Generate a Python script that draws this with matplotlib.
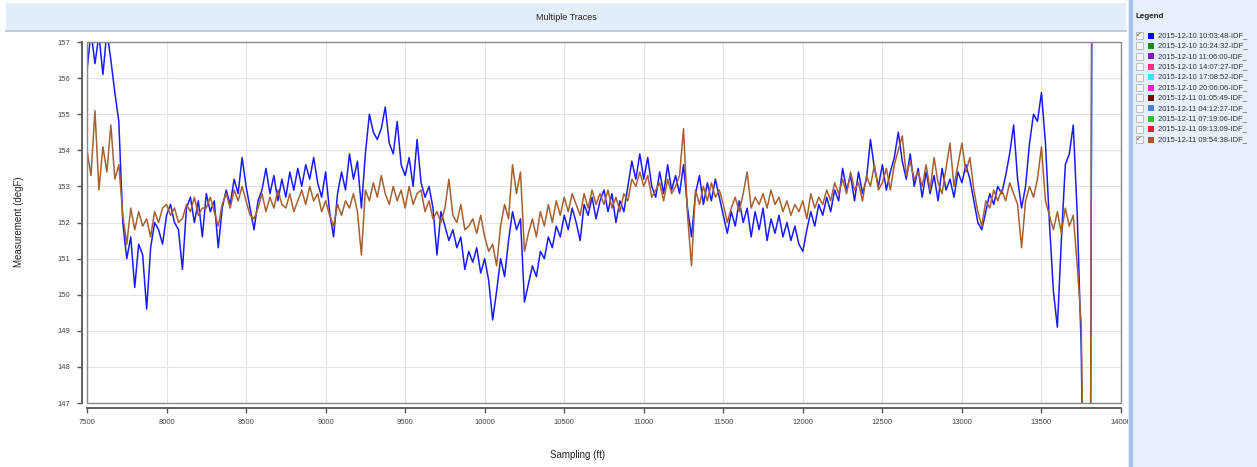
"""
Multiple Traces: two selected temperature traces vs. sampling depth,
with the trace-picker legend panel on the right.
"""

import numpy as np
import matplotlib
import matplotlib.pyplot as plt
from matplotlib.patches import Rectangle
from matplotlib.lines import Line2D

matplotlib.use("Agg")

plt.rcParams["font.family"] = ["Liberation Sans", "DejaVu Sans"]

W, H = 1257, 467

# sampling grid (ft), one reading every 25 ft
SAMPLING_START = 7500
SAMPLING_STEP = 25

# 2015-12-10 10:03:48 (blue)
trace_1003 = [
    156.2, 157.3, 156.4, 157.2, 156.1, 157.3, 156.5, 155.6, 154.8, 152.0,
    151.0, 151.6, 150.2, 151.4, 151.1, 149.6, 151.3, 152.0, 151.8, 151.4,
    152.2, 152.5, 152.0, 151.8, 150.7, 152.4, 152.7, 152.0, 152.6, 151.6,
    152.8, 152.3, 152.6, 151.3, 152.4, 152.9, 152.5, 153.2, 152.8, 153.8,
    153.0, 152.4, 151.8, 152.6, 152.9, 153.5, 152.8, 153.3, 152.6, 153.2,
    152.7, 153.4, 152.9, 153.5, 153.0, 153.6, 153.2, 153.8, 153.1, 152.7,
    153.4, 152.3, 151.6, 152.8, 153.4, 152.9, 153.9, 153.2, 153.7, 152.4,
    153.9, 155.0, 154.5, 154.3, 154.6, 155.2, 154.2, 153.9, 154.8, 153.6,
    153.3, 153.8, 153.0, 154.3, 153.1, 152.7, 153.0, 152.4, 151.1, 152.3,
    151.9, 151.5, 151.8, 151.3, 151.6, 150.7, 151.2, 150.9, 151.3, 150.6,
    151.0, 150.4, 149.3, 150.1, 151.0, 150.5, 151.5, 152.3, 151.8, 152.1,
    149.8, 150.3, 150.8, 150.5, 151.2, 151.0, 151.6, 151.3, 151.9, 151.6,
    152.2, 151.8, 152.4, 152.0, 151.5, 152.5, 152.2, 152.7, 152.1, 152.6,
    152.9, 152.3, 152.8, 152.0, 152.6, 152.3, 153.0, 153.7, 153.2, 153.9,
    153.2, 153.8, 153.0, 152.7, 153.4, 152.8, 153.6, 152.9, 153.3, 152.8,
    153.6, 152.4, 151.6, 152.8, 153.3, 152.5, 153.1, 152.6, 153.2, 152.7,
    152.2, 151.7, 152.3, 151.9, 152.6, 152.0, 152.4, 151.6, 152.3, 151.8,
    152.4, 151.5, 152.1, 151.7, 152.2, 151.6, 152.0, 151.5, 151.9, 151.4,
    151.2, 151.8, 152.3, 151.9, 152.5, 152.2, 152.7, 152.3, 152.9, 152.6,
    153.5, 152.9, 153.3, 152.6, 153.4, 152.8, 153.2, 154.3, 153.5, 153.0,
    153.6, 152.9, 153.4, 153.8, 154.5, 153.7, 153.2, 153.9, 153.0, 153.5,
    152.7, 153.4, 152.8, 153.3, 152.6, 153.5, 152.9, 153.2, 152.7, 153.4,
    153.1, 153.6, 153.2, 152.6, 152.0, 151.8, 152.3, 152.8, 152.5, 153.0,
    152.8, 153.3, 153.9, 154.7, 153.2, 152.4, 153.0, 154.2, 155.0, 154.8,
    155.6, 154.2, 152.0, 150.1, 149.1, 151.5, 153.6, 153.9, 154.7, 152.2,
    148.5, 140.0, 132.0, 172.0,
]

# 2015-12-11 09:54:38 (brown)
trace_0954 = [
    154.0, 153.3, 155.1, 152.9, 154.1, 153.4, 154.7, 153.2, 153.6, 152.2,
    151.4, 152.4, 151.8, 152.3, 151.9, 152.1, 151.6, 152.3, 152.0, 152.4,
    152.5, 152.2, 152.4, 152.0, 152.1, 152.5, 152.3, 152.7, 152.2, 152.4,
    152.4, 152.7, 152.3, 151.9, 152.5, 152.8, 152.4, 152.9, 152.6, 153.0,
    152.6, 152.2, 152.1, 152.4, 152.8, 152.3, 152.7, 152.4, 152.9, 152.5,
    152.4, 152.8, 152.3, 152.6, 152.9, 152.5, 153.0, 152.6, 152.8, 152.3,
    152.6, 152.2, 151.9, 152.5, 152.2, 152.6, 152.4, 152.8, 152.3, 151.1,
    152.9, 152.6, 153.1, 152.7, 153.3, 152.8, 152.5, 153.0, 152.6, 152.9,
    152.4, 153.0, 152.5, 152.8, 152.9, 152.3, 152.6, 152.1, 152.3, 152.0,
    152.4, 153.2, 152.2, 152.0, 152.5, 151.8, 151.9, 152.1, 151.7, 152.2,
    151.6, 151.2, 151.4, 150.8, 151.9, 152.5, 152.1, 153.6, 152.8, 153.4,
    151.2, 151.7, 152.1, 151.6, 152.3, 151.9, 152.5, 152.0, 152.6, 152.2,
    152.7, 152.3, 152.8, 152.5, 152.2, 152.8, 152.4, 152.9, 152.5, 152.8,
    152.5, 152.9, 152.4, 152.7, 152.3, 152.8, 152.6, 153.2, 153.0, 153.4,
    153.0, 153.3, 152.7, 152.9, 153.1, 152.6, 153.2, 152.8, 153.0, 153.3,
    154.6, 152.2, 150.8, 152.9, 152.5, 153.0, 152.6, 153.1, 152.7, 152.9,
    152.5, 152.0, 152.4, 152.7, 152.3, 152.8, 153.4, 152.4, 152.7, 152.5,
    152.8, 152.4, 152.9, 152.5, 152.7, 152.3, 152.6, 152.2, 152.5, 152.3,
    152.6, 152.1, 152.8, 152.4, 152.7, 152.5, 152.9, 152.6, 153.1, 152.8,
    153.2, 152.8, 153.4, 152.9, 153.1, 152.6, 153.3, 153.0, 153.6, 152.9,
    153.1, 153.5, 152.9, 153.6, 154.0, 154.4, 153.3, 153.7, 153.2, 153.4,
    153.0, 153.6, 152.9, 153.8, 153.1, 152.8, 153.5, 154.2, 153.0, 153.6,
    154.2, 153.4, 153.8, 152.9, 152.3, 151.9, 152.6, 152.4, 152.9, 152.6,
    152.9, 152.6, 153.1, 152.8, 152.5, 151.3, 152.6, 153.0, 152.7, 153.2,
    154.1, 152.6, 152.2, 151.8, 152.3, 151.7, 152.4, 151.9, 152.2, 150.8,
    149.2, 141.0, 132.0, 172.0,
]

LEGEND_LABELS = [
    "2015-12-10 10:03:48-IDF_",
    "2015-12-10 10:24:32-IDF_",
    "2015-12-10 11:06:00-IDF_",
    "2015-12-10 14:07:27-IDF_",
    "2015-12-10 17:08:52-IDF_",
    "2015-12-10 20:06:06-IDF_",
    "2015-12-11 01:05:49-IDF_",
    "2015-12-11 04:12:27-IDF_",
    "2015-12-11 07:19:06-IDF_",
    "2015-12-11 09:13:09-IDF_",
    "2015-12-11 09:54:38-IDF_",
]
LEGEND_COLORS = ["#0000ff", "#1e8a1e", "#7a1fb0", "#f0337f", "#22f0f0", "#f01fe0",
                 "#7a0a0a", "#4c7fd8", "#33c033", "#dd2030", "#a5562c"]
LEGEND_CHECKED = [True, False, False, False, False, False, False, False, False, False, True]

X_TICKS = [7500, 8000, 8500, 9000, 9500, 10000, 10500, 11000, 11500, 12000, 12500, 13000, 13500, 14000]
Y_TICKS = [147, 148, 149, 150, 151, 152, 153, 154, 155, 156, 157]


def fx(px):
    return px / W


def fy(py):
    return 1 - py / H


sampling = np.arange(len(trace_1003)) * SAMPLING_STEP + SAMPLING_START

fig = plt.figure(figsize=(W / 100, H / 100), dpi=100)
fig.patch.set_facecolor("white")

# title bar
fig.add_artist(Rectangle((fx(6), fy(30)), fx(1126 - 6), (27) / H,
                         transform=fig.transFigure, fc="#e4eefb", ec="none"))
fig.add_artist(Line2D([fx(6), fx(1126)], [fy(30.5), fy(30.5)],
                      transform=fig.transFigure, color="#b9c3cf", lw=1.2))
fig.text(fx(566), fy(17), "Multiple Traces", ha="center", va="center",
         fontsize=6.5, color="#222222")

# plot area
ax = fig.add_axes([fx(87), fy(403), fx(1121 - 87), (403 - 42) / H])
ax.plot(sampling, trace_1003, color="#1a1aff", lw=1.1, zorder=3)
ax.plot(sampling, trace_0954, color="#a8602f", lw=1.1, zorder=4)

ax.set_xlim(7500, 14000)
ax.set_ylim(147, 157)
ax.set_xticks(X_TICKS)
ax.set_yticks(Y_TICKS)
ax.grid(True, color="#e4e4e4", lw=0.8, zorder=0)

for side in ["top", "right"]:
    ax.spines[side].set_visible(False)
for side in ["left", "bottom"]:
    ax.spines[side].set_position(("outward", 3.6))
    ax.spines[side].set_color("#555555")
    ax.spines[side].set_linewidth(1.3)
ax.add_patch(Rectangle((0, 0), 1, 1, transform=ax.transAxes, fill=False,
                       ec="#8a8a8a", lw=1.0, clip_on=False, zorder=5))

ax.tick_params(axis="both", length=3.6, width=1, color="#555555",
               labelsize=5.5, labelcolor="#444444")
ax.tick_params(axis="y", pad=5)
ax.tick_params(axis="x", pad=4)

fig.text(fx(578), fy(455), "Sampling (ft)", ha="center", va="center",
         fontsize=7, color="#222222")
fig.text(fx(19), fy(222), "Measurement (degF)", ha="center", va="center",
         rotation=90, fontsize=7, color="#222222")

# legend panel
fig.add_artist(Rectangle((fx(1128), 0), fx(W - 1128), 1,
                         transform=fig.transFigure, fc="#e6effa", ec="none"))
fig.add_artist(Line2D([fx(1131), fx(1131)], [0, 1], transform=fig.transFigure,
                      color="#a9c3ea", lw=3))
fig.text(fx(1136), fy(17), "Legend", ha="left", va="center",
         fontsize=5.8, fontweight="bold", color="#222222")

for i, (label, color, checked) in enumerate(zip(LEGEND_LABELS, LEGEND_COLORS, LEGEND_CHECKED)):
    yc = 35.5 + i * 10.4
    fig.add_artist(Rectangle((fx(1135.5), fy(yc + 3.5)), fx(7), 7 / H,
                             transform=fig.transFigure, fc="#f7f7f7", ec="#b5b5b5", lw=0.6))
    if checked:
        fig.text(fx(1139), fy(yc), "\u2713", ha="center", va="center",
                 fontsize=5, color="#555555", family=["DejaVu Sans"])
    fig.add_artist(Rectangle((fx(1147.5), fy(yc + 3)), fx(6), 6 / H,
                             transform=fig.transFigure, fc=color, ec="none"))
    fig.text(fx(1157.5), fy(yc), label, ha="left", va="center",
             fontsize=5.5, color="#333333")

fig.savefig("out.png", dpi=100)
